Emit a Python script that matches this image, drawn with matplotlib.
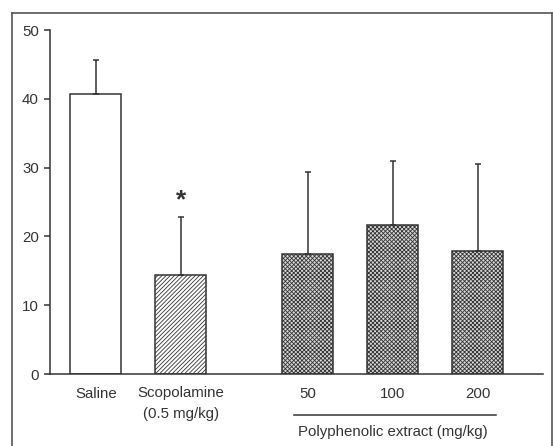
import matplotlib
matplotlib.use('Agg')
import matplotlib.pyplot as plt
from matplotlib.lines import Line2D

plt.rcParams['font.family'] = ['Liberation Sans', 'DejaVu Sans']
plt.rcParams['hatch.linewidth'] = 0.6

labels = ['Saline', 'Scopolamine\n(0.5 mg/kg)', '50', '100', '200']
positions = [0, 1, 2.5, 3.5, 4.5]
means = [40.7, 14.4, 17.5, 21.7, 17.9]
errors = [4.9, 8.4, 11.8, 9.2, 12.6]
hatches = ['', '////////', 'xxxxxxxx', 'xxxxxxxx', 'xxxxxxxx']
fills = ['white', 'white', '#d8d8d8', '#d8d8d8', '#d8d8d8']

ink = '#333333'
fs = 10.8

fig = plt.figure(figsize=(5.53, 4.46), dpi=100)
ax = fig.add_axes([50 / 553, 1 - 374 / 446, (543 - 50) / 553, (374 - 30) / 446])

for x, m, e, h, c in zip(positions, means, errors, hatches, fills):
    ax.bar(x, m, width=0.6, color=c, edgecolor=ink, linewidth=1.1,
           hatch=h, zorder=2)
    ax.errorbar(x, m, yerr=[[0], [e]], color=ink, elinewidth=1.1,
                capsize=2.5, capthick=1.1, zorder=3)

ax.text(1, 25.3, '*', ha='center', va='center', fontsize=19,
        fontweight='bold', color=ink)

ax.set_xlim(-0.54, 5.27)
ax.set_ylim(0, 50)
ax.set_yticks([0, 10, 20, 30, 40, 50])
ax.set_xticks(positions)
ax.set_xticklabels(labels, fontsize=fs, color=ink, linespacing=1.6)
ax.tick_params(axis='x', length=0, pad=9)
ax.tick_params(axis='y', length=4, width=1.1, color=ink, labelsize=fs,
               labelcolor=ink, pad=4)

for side in ['top', 'right']:
    ax.spines[side].set_visible(False)
for side in ['left', 'bottom']:
    ax.spines[side].set_color(ink)
    ax.spines[side].set_linewidth(1.1)
ax.spines['left'].set_bounds(0, 50)

# group line and label for the extract doses
ax.plot([2.34, 4.72], [-5.95, -5.95], color=ink, lw=1.1, clip_on=False)
ax.text(3.5, -8.5, 'Polyphenolic extract (mg/kg)', ha='center', va='center',
        fontsize=fs, color=ink, clip_on=False)

# outer frame
fx0, fx1, fy1 = 12 / 553, 552.3 / 553, 1 - 13 / 446
for xs, ys in [([fx0, fx0], [0, fy1]), ([fx0, fx1], [fy1, fy1]), ([fx1, fx1], [fy1, 0])]:
    fig.add_artist(Line2D(xs, ys, color='#555555', lw=1.2, transform=fig.transFigure))

fig.savefig('out.png', dpi=100)
